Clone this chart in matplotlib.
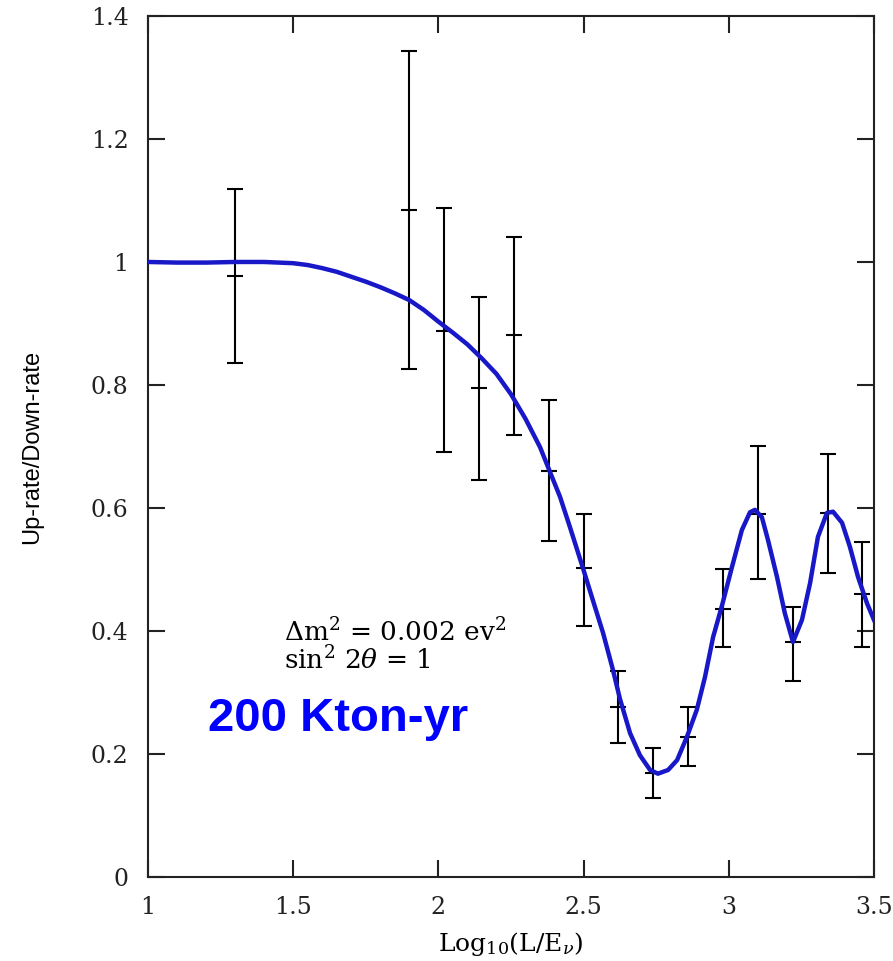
import matplotlib
matplotlib.use("Agg")
import matplotlib.pyplot as plt

plt.rcParams['mathtext.fontset'] = 'dejavuserif'

# oscillation curve
curve_x = [1.0, 1.1, 1.2, 1.3, 1.4, 1.5, 1.55, 1.6, 1.65, 1.7, 1.75, 1.8, 1.85, 1.9,
           1.95, 2.0, 2.05, 2.1, 2.15, 2.2, 2.25, 2.3, 2.35, 2.384, 2.419, 2.453,
           2.498, 2.532, 2.567, 2.601, 2.625, 2.660, 2.694, 2.729, 2.756, 2.791,
           2.822, 2.856, 2.890, 2.918, 2.946, 2.977, 3.011, 3.045, 3.073, 3.090,
           3.114, 3.135, 3.166, 3.193, 3.221, 3.252, 3.280, 3.307, 3.338, 3.359,
           3.390, 3.417, 3.445, 3.476, 3.5]
curve_y = [1.0, 0.999, 0.999, 1.0, 1.0, 0.998, 0.995, 0.99, 0.984, 0.976, 0.968, 0.959,
           0.949, 0.938, 0.922, 0.903, 0.885, 0.866, 0.843, 0.818, 0.785, 0.745, 0.699,
           0.659, 0.618, 0.569, 0.502, 0.450, 0.397, 0.337, 0.290, 0.234, 0.198,
           0.174, 0.168, 0.174, 0.190, 0.228, 0.272, 0.325, 0.390, 0.442, 0.504,
           0.564, 0.593, 0.597, 0.585, 0.548, 0.488, 0.429, 0.382, 0.418, 0.478,
           0.553, 0.592, 0.594, 0.576, 0.537, 0.488, 0.445, 0.418]

# simulated data points with error bars
pts_x = [1.30, 1.90, 2.02, 2.14, 2.26, 2.38, 2.50, 2.62, 2.74, 2.86, 2.98, 3.10, 3.22, 3.34, 3.46]
pts_y = [0.977, 1.085, 0.888, 0.795, 0.881, 0.660, 0.502, 0.277, 0.169, 0.228, 0.436, 0.590, 0.382, 0.592, 0.460]
pts_lo = [0.836, 0.826, 0.691, 0.645, 0.719, 0.546, 0.408, 0.218, 0.129, 0.180, 0.374, 0.485, 0.319, 0.494, 0.374]
pts_hi = [1.119, 1.343, 1.088, 0.943, 1.041, 0.775, 0.590, 0.335, 0.210, 0.277, 0.501, 0.701, 0.439, 0.688, 0.545]

xticks = [1, 1.5, 2, 2.5, 3, 3.5]
xtick_labels = ['1', '1.5', '2', '2.5', '3', '3.5']
yticks = [0, 0.2, 0.4, 0.6, 0.8, 1.0, 1.2, 1.4]
ytick_labels = ['0', '0.2', '0.4', '0.6', '0.8', '1', '1.2', '1.4']

fig = plt.figure(figsize=(8.93, 9.61), dpi=100)
ax = fig.add_axes([0.1657, 0.0874, 0.8130, 0.8960])

err_lo = [y - lo for y, lo in zip(pts_y, pts_lo)]
err_hi = [hi - y for y, hi in zip(pts_y, pts_hi)]
ax.errorbar(pts_x, pts_y, yerr=[err_lo, err_hi], fmt='_', color='black',
            ecolor='black', elinewidth=1.5, capsize=6, capthick=1.5,
            markersize=12, markeredgewidth=1.5, zorder=2)

ax.plot(curve_x, curve_y, color='#1818c8', linewidth=3.2, zorder=3,
        solid_joinstyle='round')

ax.set_xlim(1, 3.5)
ax.set_ylim(0, 1.4)
ax.set_xticks(xticks)
ax.set_xticklabels(xtick_labels)
ax.set_yticks(yticks)
ax.set_yticklabels(ytick_labels)
ax.tick_params(direction='in', length=12, width=1.5, top=True, right=True,
               labelsize=17, colors='#222222', pad=14)
for lab in ax.get_xticklabels() + ax.get_yticklabels():
    lab.set_family('DejaVu Serif')
for s in ax.spines.values():
    s.set_linewidth(1.5)
    s.set_color('#222222')

ax.set_xlabel(r'Log$_{10}$(L/E$_\nu$)', fontsize=18, family='DejaVu Serif')
ax.xaxis.set_label_coords(0.5, -0.062)
ax.set_ylabel('Up-rate/Down-rate', fontsize=17, family=['Liberation Sans Narrow', 'Liberation Sans'])
ax.yaxis.set_label_coords(-0.145, 0.5)

ax.text(1.47, 0.383, r'$\Delta$m$^2$ = 0.002 ev$^2$', fontsize=19, family='DejaVu Serif')
ax.text(1.47, 0.337, r'sin$^2$ 2$\theta$ = 1', fontsize=19, family='DejaVu Serif')
ax.text(1.205, 0.238, '200 Kton-yr', fontsize=34, fontweight='bold', color='#0000ff',
        family='Liberation Sans')

fig.savefig('out.png', dpi=100)
